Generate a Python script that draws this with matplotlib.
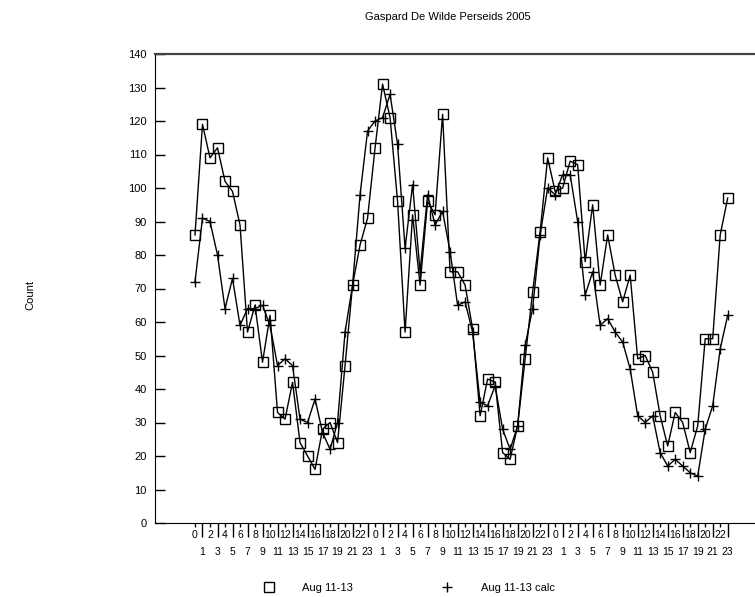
import numpy as np
import matplotlib
matplotlib.use("Agg")
import matplotlib.pyplot as plt
from matplotlib.lines import Line2D

plt.rcParams["font.family"] = ["Liberation Sans", "DejaVu Sans"]

hours = [h % 24 for h in range(72)]
aug_obs = [86, 119, 109, 112, 102, 99, 89, 57, 65, 48,
           62, 33, 31, 42, 24, 20, 16, 28, 30, 24,
           47, 71, 83, 91, 112, 131, 121, 96, 57, 92,
           71, 96, 92, 122, 75, 75, 71, 58, 32, 43,
           42, 21, 19, 29, 49, 69, 87, 109, 99, 100,
           108, 107, 78, 95, 71, 86, 74, 66, 74, 49,
           50, 45, 32, 23, 33, 30, 21, 29, 55, 55,
           86, 97]
aug_calc = [72, 91, 90, 80, 64, 73, 59, 64, 64, 65,
            59, 47, 49, 47, 31, 30, 37, 27, 22, 30,
            57, 71, 98, 117, 120, 121, 128, 113, 82, 101,
            75, 98, 89, 93, 81, 65, 66, 57, 36, 35,
            41, 28, 22, 29, 53, 64, 86, 100, 98, 104,
            104, 90, 68, 75, 59, 61, 57, 54, 46, 32,
            30, 32, 21, 17, 19, 17, 15, 14, 28, 35,
            52, 62]

W, H = 755, 597
fig = plt.figure(figsize=(W / 100, H / 100), dpi=100)
ax = fig.add_axes([155 / W, 1 - 523 / H, 610 / W, 469 / H])

x = np.arange(len(hours))
ax.plot(x, aug_obs, color="black", lw=1, marker="s", ms=7.5, mfc="none",
        mec="black", mew=1, clip_on=False)
ax.plot(x, aug_calc, color="black", lw=1, marker="+", ms=7, mew=1,
        clip_on=False)

ax.set_xlim(-5.33, 75.97)
ax.set_ylim(0, 140)

ax.set_yticks(range(0, 141, 10))
ax.tick_params(axis="y", direction="in", length=7, width=1, labelsize=8,
               pad=6, right=False)

# even hours on the first row, odd hours one row lower on longer ticks
ax.set_xticks(x[::2])
ax.set_xticklabels([str(h) for h in hours[::2]])
ax.set_xticks(x[1::2], minor=True)
ax.set_xticklabels([str(h) for h in hours[1::2]], minor=True)
ax.tick_params(axis="x", which="major", direction="out", length=3, width=1,
               labelsize=7.5, pad=2)
ax.tick_params(axis="x", which="minor", direction="out", length=10, width=1,
               labelsize=7.5, pad=7.5)

ax.spines["right"].set_visible(False)
ax.spines["top"].set_color("#444444")
ax.spines["top"].set_linewidth(1.6)

fig.text(448 / W, 1 - 17 / H, "Gaspard De Wilde Perseids 2005", ha="center",
         va="center", fontsize=8)
fig.text(30 / W, 1 - 295 / H, "Count", rotation=90, ha="center", va="center",
         fontsize=8)

handles = [Line2D([], [], ls="none", marker="s", ms=7.5, mfc="none",
                  mec="black"),
           Line2D([], [], ls="none", marker="+", ms=6.5, color="black")]
fig.legend(handles, ["Aug 11-13", "Aug 11-13 calc"], loc="center",
           bbox_to_anchor=(409 / W, 1 - 588 / H), ncol=2, frameon=False,
           fontsize=8, handlelength=1, handletextpad=2.5, columnspacing=8.0)

fig.savefig("out.png", dpi=100)
